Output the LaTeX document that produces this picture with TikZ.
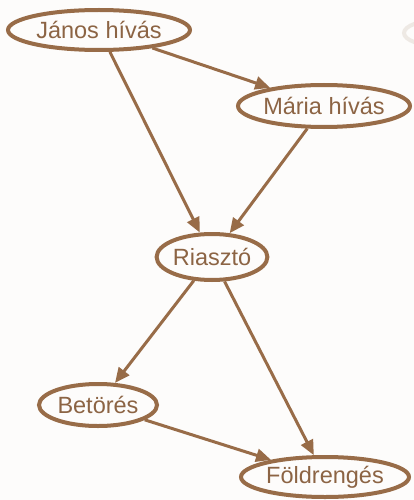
\documentclass[tikz,border=0pt]{standalone}
\usepackage{fontspec}
\setmainfont{Liberation Sans}
\usetikzlibrary{shapes.geometric,arrows.meta}
\definecolor{umber}{RGB}{152,108,72}
\definecolor{umbertext}{RGB}{140,100,68}
\definecolor{ghost}{RGB}{238,233,228}
\definecolor{paper}{RGB}{253,252,251}
\begin{document}
\begin{tikzpicture}[x=1pt,y=-1pt,
  var/.style={ellipse, draw=umber, line width=4pt, inner sep=0pt,
    text=umbertext, font=\fontsize{23.5}{28}\selectfont},
  link/.style={draw=umber, line width=3pt,
    -{Triangle[length=15pt,width=13pt]}}]
  \fill[paper] (0,0) rectangle (414,500);
  \useasboundingbox (0,0) rectangle (414,500);
  \clip (0,0) rectangle (414,500);
  % faded shape at the top right edge
  \draw[ghost, line width=4pt] (440,33) ellipse [x radius=36, y radius=13];
  % variables
  \node[var, minimum width=182pt, minimum height=40pt] (J) at (99,30) {János hívás};
  \node[var, minimum width=172pt, minimum height=42pt] (M) at (324,106) {Mária hívás};
  \node[var, minimum width=110pt, minimum height=46pt] (R) at (212,257) {Riasztó};
  \node[var, minimum width=118pt, minimum height=42pt] (B) at (98,405) {Betörés};
  \node[var, minimum width=168pt, minimum height=40pt] (F) at (325,477) {Földrengés};
  % dependencies
  \draw[link] (J) -- (M);
  \draw[link] (J) -- (R);
  \draw[link] (M) -- (R);
  \draw[link] (R) -- (B);
  \draw[link] (R) -- (F);
  \draw[link] (B) -- (F);
\end{tikzpicture}
\end{document}
